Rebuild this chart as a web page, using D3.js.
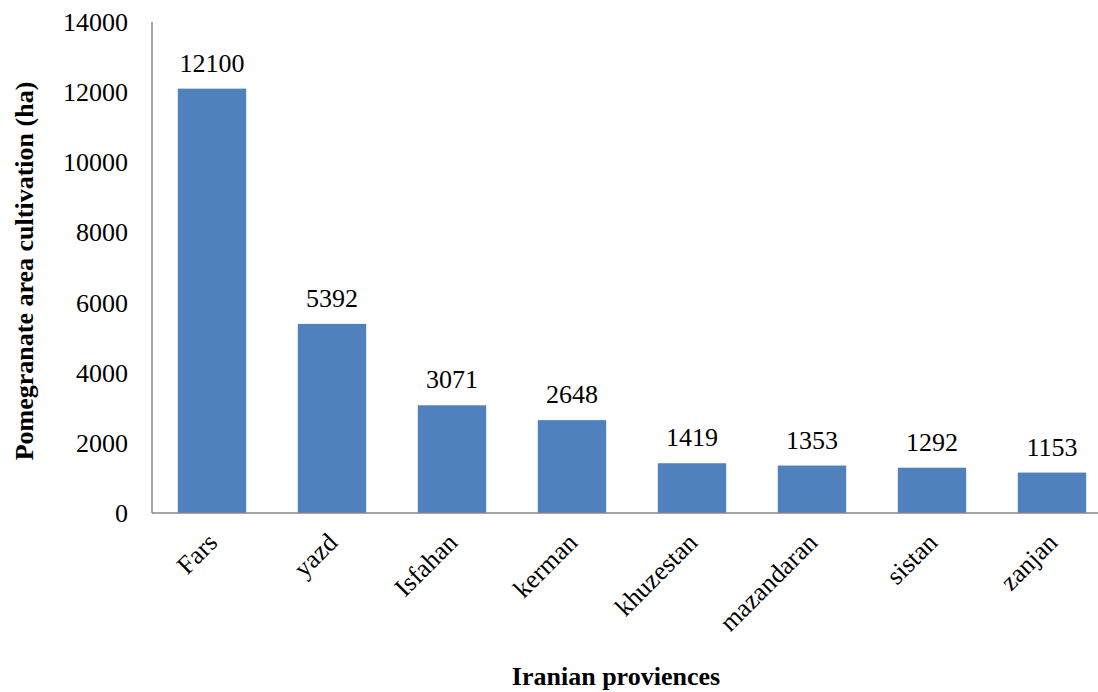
<!DOCTYPE html>
<html>
<head>
<meta charset="utf-8">
<script src="https://cdn.jsdelivr.net/npm/d3@7"></script>
<style>
  body { margin: 0; background: #fff; }
  text { font-family: "Liberation Serif", "Times New Roman", serif; fill: #000; }
</style>
</head>
<body>
<svg id="chart"></svg>
<script>
var provinces = ["Fars", "yazd", "Isfahan", "kerman", "khuzestan", "mazandaran", "sistan", "zanjan"];
var areas     = [12100, 5392, 3071, 2648, 1419, 1353, 1292, 1153];
var yTicks    = [0, 2000, 4000, 6000, 8000, 10000, 12000, 14000];

var w = 1098, h = 692;
var svg = d3.select("#chart").attr("width", w).attr("height", h);

var x = d3.scaleBand().domain(provinces).range([152, 1112]).paddingInner(0.43).paddingOuter(0.215);
var y = d3.scaleLinear().domain([0, 14000]).range([513, 22]);

// bars
svg.selectAll("rect.bar").data(provinces).enter().append("rect")
  .attr("class", "bar")
  .attr("x", function(d) { return x(d); })
  .attr("width", x.bandwidth())
  .attr("y", function(d, i) { return y(areas[i]); })
  .attr("height", function(d, i) { return y(0) - y(areas[i]); })
  .attr("fill", "#4F81BD");

// value labels
svg.selectAll("text.val").data(provinces).enter().append("text")
  .attr("class", "val")
  .attr("x", function(d) { return x(d) + x.bandwidth() / 2; })
  .attr("y", function(d, i) { return y(areas[i]) - 17; })
  .attr("text-anchor", "middle")
  .attr("font-size", 26)
  .text(function(d, i) { return areas[i]; });

// y axis
svg.append("line").attr("x1", 152).attr("x2", 152).attr("y1", y(14000)).attr("y2", y(0))
  .attr("stroke", "#868686").attr("stroke-width", 1.5);
svg.selectAll("text.ytick").data(yTicks).enter().append("text")
  .attr("class", "ytick")
  .attr("x", 128)
  .attr("y", function(d) { return y(d) + 9; })
  .attr("text-anchor", "end")
  .attr("font-size", 26)
  .text(function(d) { return d; });

// x axis
svg.append("line").attr("x1", 152).attr("x2", w).attr("y1", y(0)).attr("y2", y(0))
  .attr("stroke", "#868686").attr("stroke-width", 1.5);
svg.selectAll("text.xtick").data(provinces).enter().append("text")
  .attr("class", "xtick")
  .attr("transform", function(d) {
    return "translate(" + (x(d) + x.bandwidth() / 2 + 7) + "," + 544 + ") rotate(-45)";
  })
  .attr("text-anchor", "end")
  .attr("font-size", 26)
  .text(function(d) { return d; });

// titles
svg.append("text")
  .attr("x", 616).attr("y", 685)
  .attr("text-anchor", "middle")
  .attr("font-size", 26).attr("font-weight", "bold")
  .text("Iranian proviences");

svg.append("text")
  .attr("transform", "translate(33,271) rotate(-90)")
  .attr("text-anchor", "middle")
  .attr("font-size", 26).attr("font-weight", "bold")
  .text("Pomegranate area cultivation (ha)");
</script>
</body>
</html>
